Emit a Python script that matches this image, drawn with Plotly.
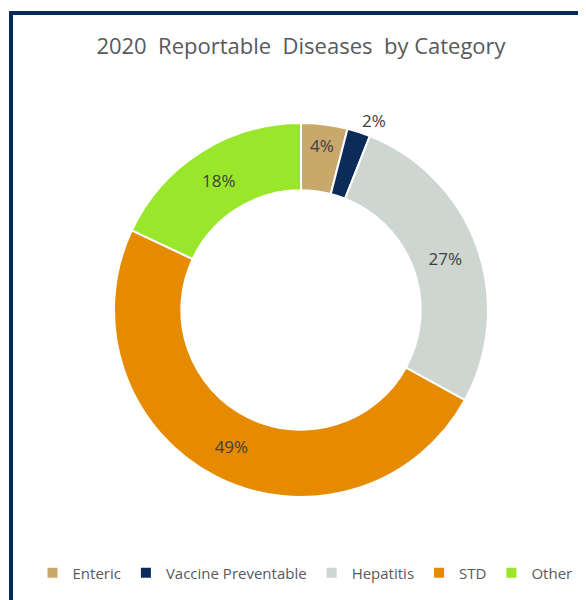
import math
import plotly.graph_objects as go

# ── Data ────────────────────────────────────────────────────────────────────
categories = ["Enteric", "Vaccine Preventable", "Hepatitis", "STD", "Other"]
shares = [4, 2, 27, 49, 18]
colors = ["#C9A86C", "#0B2B58", "#CDD6D0", "#E68A00", "#9AE62A"]
title_text = "2020  Reportable  Diseases  by Category"

# the page body adds an 8px margin, so the figure is drawn 8px smaller
OFF = 8
W, H = 586 - OFF, 600 - OFF
# pie placement in screen pixels
cx, cy, r = 301 - OFF, 310 - OFF, 187


def px_x(x):
    return x / W


def px_y(y):
    return 1 - y / H


# small slices get their label outside
inside_text = [f"{v}%" if v >= 3 else "" for v in shares]

fig = go.Figure(go.Pie(
    labels=categories,
    values=shares,
    text=inside_text,
    textinfo="text",
    textposition="inside",
    insidetextorientation="horizontal",
    textfont=dict(family="Open Sans", size=17, color="#404040"),
    marker=dict(colors=colors, line=dict(color="#FFFFFF", width=2)),
    hole=0.64,
    sort=False,
    direction="clockwise",
    rotation=0,
    domain=dict(x=[px_x(cx - r), px_x(cx + r)], y=[px_y(cy + r), px_y(cy - r)]),
))

# outside labels for the thin slices
total = sum(shares)
cum = 0
for v in shares:
    if v < 3:
        ang = 2 * math.pi * (cum + v / 2) / total
        lr = r + 26
        fig.add_annotation(
            x=px_x(cx + lr * math.sin(ang)), y=px_y(cy - lr * math.cos(ang)),
            xref="paper", yref="paper", text=f"{v}%", showarrow=False, xshift=7,
            font=dict(family="Open Sans", size=17, color="#404040"),
        )
    cum += v

# navy frame (right and bottom edges run off the picture)
fig.add_shape(type="rect", xref="paper", yref="paper",
              x0=px_x(11 - OFF), y0=-0.05, x1=1.05, y1=px_y(13 - OFF),
              line=dict(color="#002B5E", width=4), layer="below")

fig.update_layout(
    width=W, height=H,
    paper_bgcolor="#FFFFFF",
    margin=dict(l=0, r=0, t=0, b=0),
    title=dict(text=title_text, x=px_x(301 - OFF), xanchor="center",
               y=px_y(46 - OFF), yanchor="middle",
               font=dict(family="Open Sans", size=22, color="#595959")),
    showlegend=True,
    legend=dict(orientation="h", x=px_x(305 - OFF), xanchor="center",
                y=px_y(573 - OFF), yanchor="middle",
                font=dict(family="Open Sans", size=15, color="#595959"),
                itemwidth=30, traceorder="normal"),
)

fig.write_html("out.html")
